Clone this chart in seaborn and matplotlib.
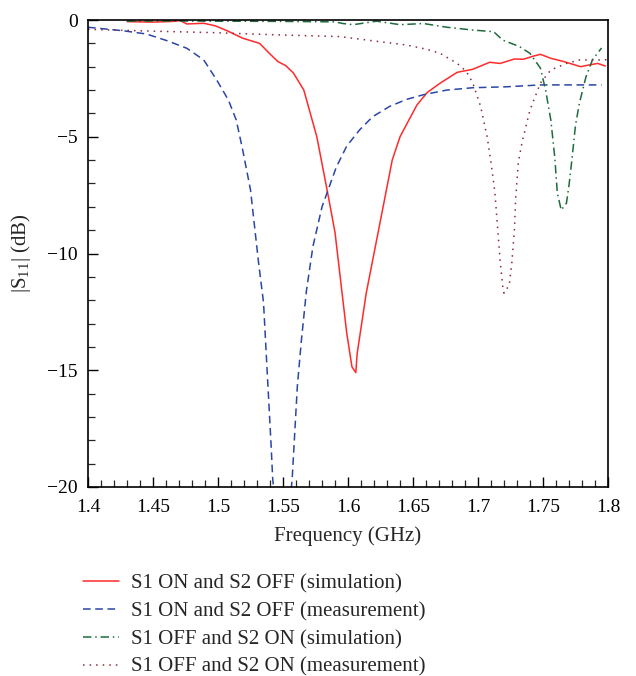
import matplotlib
matplotlib.use("Agg")
import matplotlib.pyplot as plt
import seaborn as sns
import pandas as pd
from matplotlib.ticker import MultipleLocator

# ---- data ----
x_sim_on = [1.430, 1.450, 1.465, 1.471, 1.476, 1.489, 1.498, 1.507, 1.519, 1.532, 1.539, 1.546,
            1.552, 1.558, 1.566, 1.576, 1.585, 1.590, 1.599, 1.603, 1.606, 1.607, 1.614, 1.627,
            1.634, 1.640, 1.646, 1.653, 1.661, 1.671, 1.684, 1.696, 1.709, 1.717, 1.728, 1.735,
            1.743, 1.748, 1.756, 1.766, 1.779, 1.785, 1.792, 1.798]
y_sim_on = [-0.07, -0.09, -0.06, -0.03, -0.17, -0.14, -0.25, -0.46, -0.78, -1.0, -1.4, -1.78,
            -1.95, -2.27, -3.0, -5.0, -7.6, -9.1, -13.4, -14.85, -15.1, -14.3, -11.7, -8.0,
            -6.0, -5.0, -4.37, -3.64, -3.1, -2.7, -2.24, -2.11, -1.81, -1.86, -1.67, -1.68,
            -1.54, -1.47, -1.64, -1.78, -2.0, -1.93, -1.86, -1.97]

x_meas_on = [1.400, 1.427, 1.445, 1.461, 1.476, 1.489, 1.499, 1.508, 1.514, 1.519, 1.525, 1.531,
             1.535, 1.539, 1.541, 1.542, 1.549, 1.557, 1.559, 1.561, 1.564, 1.568, 1.573, 1.580,
             1.591, 1.599, 1.609, 1.619, 1.632, 1.645, 1.658, 1.676, 1.696, 1.722, 1.748, 1.795]
y_meas_on = [-0.31, -0.46, -0.6, -0.89, -1.21, -1.71, -2.57, -3.43, -4.28, -5.57, -7.28, -10.3,
             -12.1, -16.3, -18.4, -19.6, -24.0, -19.7, -17.7, -15.7, -13.8, -11.6, -9.7, -8.0,
             -6.3, -5.4, -4.7, -4.14, -3.7, -3.4, -3.2, -3.0, -2.9, -2.86, -2.78, -2.78]

x_sim_off = [1.430, 1.460, 1.500, 1.550, 1.590, 1.596, 1.604, 1.622, 1.640, 1.658, 1.676, 1.696,
             1.712, 1.719, 1.732, 1.740, 1.748, 1.752, 1.756, 1.759, 1.761, 1.764, 1.768, 1.770,
             1.772, 1.775, 1.778, 1.783, 1.788, 1.795]
y_sim_off = [-0.05, -0.04, -0.05, -0.06, -0.08, -0.15, -0.2, -0.05, -0.2, -0.15, -0.31, -0.43,
             -0.5, -0.86, -1.14, -1.43, -2.06, -3.0, -4.28, -5.86, -7.4, -8.14, -7.85, -7.07,
             -6.1, -4.5, -3.56, -2.44, -1.71, -1.2]

x_meas_off = [1.400, 1.445, 1.496, 1.548, 1.594, 1.619, 1.645, 1.661, 1.671, 1.684, 1.691, 1.696,
              1.702, 1.707, 1.710, 1.713, 1.715, 1.717, 1.719, 1.720, 1.724, 1.726, 1.728, 1.729,
              1.731, 1.734, 1.740, 1.748, 1.756, 1.768, 1.778, 1.794, 1.800]
y_meas_off = [-0.4, -0.47, -0.54, -0.64, -0.71, -0.89, -1.07, -1.26, -1.43, -1.86, -2.2, -2.7,
              -3.7, -5.0, -6.1, -7.4, -8.85, -10.3, -11.4, -11.7, -11.35, -10.4, -9.0, -7.6,
              -6.1, -5.2, -3.85, -2.7, -2.14, -1.86, -1.71, -1.71, -1.7]

labels = ["S1 ON and S2 OFF (simulation)", "S1 ON and S2 OFF (measurement)",
          "S1 OFF and S2 ON (simulation)", "S1 OFF and S2 ON (measurement)"]
x_ticks = [1.4, 1.45, 1.5, 1.55, 1.6, 1.65, 1.7, 1.75, 1.8]
x_tick_labels = ["1.4", "1.45", "1.5", "1.55", "1.6", "1.65", "1.7", "1.75", "1.8"]
y_ticks = [0, -5, -10, -15, -20]

# ---- style ----
sns.set_style("ticks")
plt.rcParams['font.family'] = ['Liberation Serif', 'DejaVu Serif']
plt.rcParams['mathtext.fontset'] = 'custom'
plt.rcParams['mathtext.rm'] = 'Liberation Serif'
plt.rcParams['mathtext.it'] = 'Liberation Serif:italic'

fig = plt.figure(figsize=(6.36, 6.76), dpi=100)
ax = fig.add_axes([0.1384, 0.2796, 0.8176, 0.6908])

styles = [
    ("#ff2a2a", "-"),
    ("#2a46a6", (0, (5, 3))),
    ("#1f6b3c", (0, (5.5, 2.5, 1, 2.5))),
    ("#8b2a3a", (0, (1, 3.3))),
]
data = [(x_sim_on, y_sim_on), (x_meas_on, y_meas_on),
        (x_sim_off, y_sim_off), (x_meas_off, y_meas_off)]
for (xs, ys), (col, ls), lab in zip(data, styles, labels):
    df = pd.DataFrame({"f": xs, "s": ys})
    sns.lineplot(data=df, x="f", y="s", ax=ax, color=col, linewidth=1.1,
                 linestyle=ls, label=lab, sort=False, legend=False)

ax.set_xlim(1.4, 1.8)
ax.set_ylim(-20, 0)
ax.set_xticks(x_ticks)
ax.set_xticklabels(x_tick_labels)
ax.set_yticks(y_ticks)
ax.xaxis.set_minor_locator(MultipleLocator(0.01))
ax.yaxis.set_minor_locator(MultipleLocator(1))
ax.tick_params(which='major', direction='in', length=7.5, width=1.0, labelsize=14, colors='black')
ax.tick_params(which='minor', direction='in', length=5, width=0.9)
ax.tick_params(axis='x', which='major', pad=9)
ax.tick_params(axis='y', which='major', pad=7.5)
for sp in ax.spines.values():
    sp.set_visible(True)
    sp.set_color('black')
    sp.set_linewidth(1.2)

ax.set_xlabel("Frequency (GHz)", fontsize=15, labelpad=7)
ax.set_ylabel(r"|S$_{11}$| (dB)", fontsize=15, labelpad=10)

handles, labs = ax.get_legend_handles_labels()
fig.legend(handles, labs, loc='upper left', bbox_to_anchor=(0.1305, 0.1515),
           frameon=False, fontsize=15, handlelength=1.75, handletextpad=0.55,
           labelspacing=0.4, borderaxespad=0, borderpad=0)

fig.savefig("out.png", dpi=100)
